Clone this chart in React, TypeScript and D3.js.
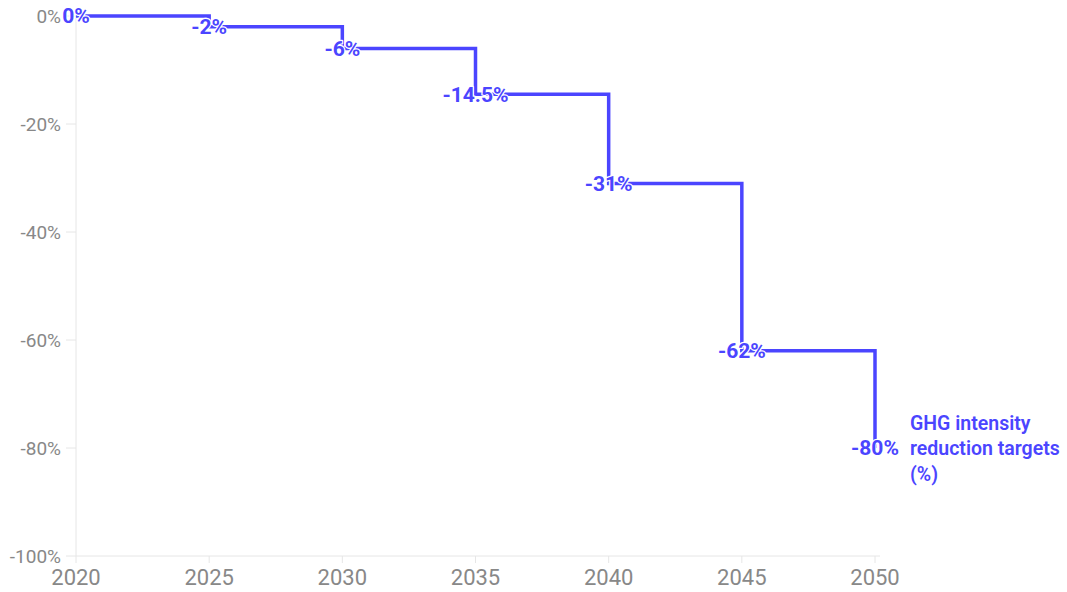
import React from "react";
import * as d3 from "d3";

const years = [2020, 2025, 2030, 2035, 2040, 2045, 2050];
const targets = [0, -2, -6, -14.5, -31, -62, -80];
const pointLabels = ["0%", "-2%", "-6%", "-14.5%", "-31%", "-62%", "-80%"];
const yTicks = [0, -20, -40, -60, -80, -100];
const xTicks = [2020, 2025, 2030, 2035, 2040, 2045, 2050];
const seriesLabel = ["GHG intensity", "reduction targets", "(%)"];

const W = 1067;
const H = 592;
const M = { left: 76, right: 1067 - 875, top: 16, bottom: 592 - 556 };
const COLOR = "#4B45FF";
const AXIS = "#e6e6e6";
const TEXT = "#888888";
const FONT = "Roboto, 'Noto Sans', sans-serif";

export default function App() {
  const x = d3.scaleLinear().domain([2020, 2050]).range([M.left, W - M.right]);
  const y = d3.scaleLinear().domain([-100, 0]).range([H - M.bottom, M.top]);
  const data = years.map((yr, i) => ({ yr, v: targets[i], label: pointLabels[i] }));
  const line = d3
    .line<{ yr: number; v: number }>()
    .x((d) => x(d.yr))
    .y((d) => y(d.v))
    .curve(d3.curveStepAfter);
  const last = data[data.length - 1];

  return (
    <svg
      width={W}
      height={H}
      style={{ position: "absolute", left: 0, top: 0, fontFamily: FONT }}
    >
      <rect width={W} height={H} fill="#fff" />
      {/* y axis */}
      <line x1={x(2020)} x2={x(2020)} y1={y(0)} y2={y(-100)} stroke={AXIS} strokeWidth={1} />
      {yTicks.map((t) => (
        <g key={t}>
          <line x1={x(2020) - 10} x2={x(2020)} y1={y(t)} y2={y(t)} stroke={AXIS} />
          <text
            x={x(2020) - 15}
            y={y(t)}
            dy="0.35em"
            textAnchor="end"
            fontSize={19}
            fill={TEXT}
          >
            {t}%
          </text>
        </g>
      ))}
      {/* x axis */}
      <line x1={x(2020)} x2={x(2050) + 5} y1={y(-100)} y2={y(-100)} stroke={AXIS} />
      {xTicks.map((t) => (
        <g key={t}>
          <line x1={x(t)} x2={x(t)} y1={y(-100)} y2={y(-100) + 7} stroke={AXIS} />
          <text x={x(t)} y={y(-100) + 29} textAnchor="middle" fontSize={22} fill={TEXT}>
            {t}
          </text>
        </g>
      ))}
      {/* step line */}
      <path d={line(data) || ""} fill="none" stroke={COLOR} strokeWidth={3.5} />
      {/* point labels */}
      {data.map((d) => (
        <text
          key={d.yr}
          x={x(d.yr)}
          y={y(d.v)}
          dy="0.35em"
          textAnchor="middle"
          fontSize={21}
          fontWeight={700}
          fill={COLOR}
          stroke="#fff"
          strokeWidth={2.5}
          paintOrder="stroke"
          strokeLinejoin="round"
        >
          {d.label}
        </text>
      ))}
      {/* series label */}
      <text
        x={x(last.yr) + 35}
        y={y(last.v) - 25}
        fontSize={19.5}
        fontWeight={600}
        fill={COLOR}
      >
        {seriesLabel.map((s, i) => (
          <tspan key={i} x={x(last.yr) + 35} dy={i === 0 ? "0.35em" : 25.5}>
            {s}
          </tspan>
        ))}
      </text>
    </svg>
  );
}
